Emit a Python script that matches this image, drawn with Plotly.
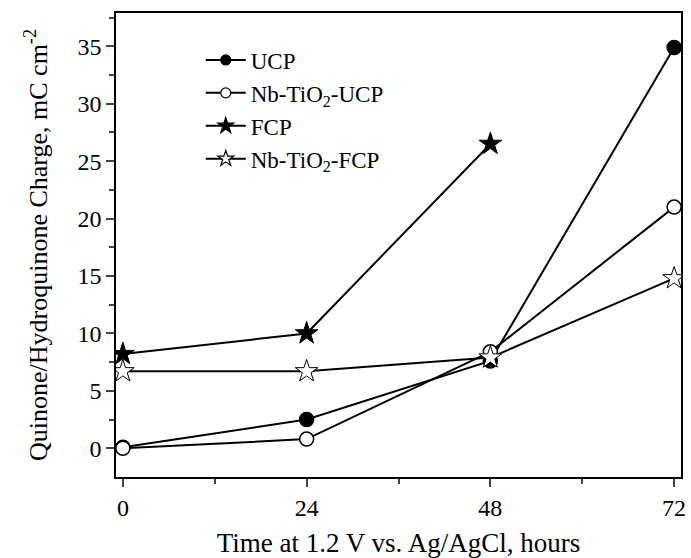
import plotly.graph_objects as go

hours = [0, 24, 48, 72]
ucp = [0.1, 2.5, 7.6, 34.9]
nb_ucp = [0.0, 0.8, 8.4, 21.0]
fcp_hours = [0, 24, 48]
fcp = [8.2, 10.0, 26.5]
nb_fcp = [6.7, 6.7, 7.9, 14.8]

names = ["UCP", "Nb-TiO<sub>2</sub>-UCP", "FCP", "Nb-TiO<sub>2</sub>-FCP"]
symbols = ["circle", "circle", "star", "star"]
fills = ["black", "white", "black", "white"]
xs = [hours, hours, fcp_hours, hours]
ys = [ucp, nb_ucp, fcp, nb_fcp]

FONT = "Liberation Serif, Times New Roman, serif"

fig = go.Figure()
line = dict(color="black", width=2)
for name, sym, fill, x, y in zip(names, symbols, fills, xs, ys):
    size = 14 if sym == "circle" else 17
    fig.add_trace(go.Scatter(x=x, y=y, mode="lines+markers", name=name, line=line, showlegend=False,
                             marker=dict(symbol=sym, size=size, color=fill,
                                         line=dict(color="black", width=1.5 if sym == "circle" else 1))))
# legend entries with smaller symbols, as in the reference
for name, sym, fill in zip(names, symbols, fills):
    fig.add_trace(go.Scatter(x=[None], y=[None], mode="lines+markers", name=name, line=line,
                             marker=dict(symbol=sym, size=10 if sym == "circle" else 12, color=fill,
                                         line=dict(color="black", width=1.2))))

fig.update_layout(
    width=691, height=558,
    margin=dict(l=116, r=5, t=13, b=81),
    paper_bgcolor="white", plot_bgcolor="white",
    font=dict(family=FONT, size=24, color="black"),
    showlegend=True,
    legend=dict(x=0.15, y=0.945, xanchor="left", yanchor="top", bgcolor="rgba(0,0,0,0)",
                font=dict(family=FONT, size=23), itemwidth=40, tracegroupgap=0),
    xaxis=dict(range=[-0.9, 72.9], tickvals=[0, 24, 48, 72], ticks="outside", ticklen=8, tickwidth=1.5,
               showline=True, linecolor="black", linewidth=1.5, mirror=True, showgrid=False, zeroline=False,
               tickfont=dict(size=24),
               minor=dict(tickvals=[12, 36, 60], ticks="outside", ticklen=5, tickwidth=1.5),
               title=dict(text="Time at 1.2 V vs. Ag/AgCl, hours", standoff=14, font=dict(size=27))),
    yaxis=dict(range=[-2.5, 37.9], tickvals=[0, 5, 10, 15, 20, 25, 30, 35], ticks="outside", ticklen=8, tickwidth=1.5,
               showline=True, linecolor="black", linewidth=1.5, mirror=True, showgrid=False, zeroline=False,
               tickfont=dict(size=24),
               minor=dict(tickvals=[2.5, 7.5, 12.5, 17.5, 22.5, 27.5, 32.5, 37.5], ticks="outside", ticklen=5, tickwidth=1.5),
               title=dict(text="Quinone/Hydroquinone Charge, mC cm<sup>-2</sup>", standoff=22, font=dict(size=26))),
)

fig.write_html("out.html", config={"displayModeBar": False},
               post_script="document.body.style.margin='0';document.body.style.overflow='hidden';")
